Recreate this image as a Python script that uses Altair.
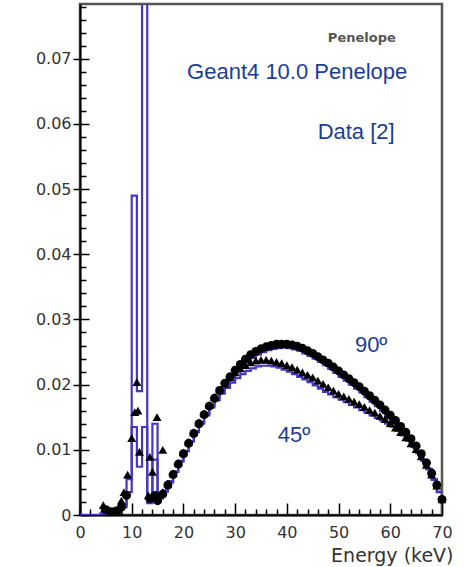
import altair as alt
import pandas as pd

# ---------------- data ----------------
X_MAX = 70
Y_MAX = 0.0784

bin_edges = list(range(0, 71))  # 1 keV bins, left edges 0..69 plus closing edge 70

hist_90 = [0, 0, 0, 0,
           0.0002, 0.0004, 0.0003, 0.0005, 0.0012, 0.0035,
           0.049, 0.019, 0.095, 0.003, 0.014, 0.0025,
           0.0036, 0.0050, 0.0066, 0.0082, 0.0098, 0.0113, 0.0128, 0.0142, 0.0155, 0.0168,
           0.0180, 0.0191, 0.0201, 0.0211, 0.0220, 0.0228, 0.0235, 0.0241, 0.0246, 0.0250,
           0.0253, 0.0255, 0.0256, 0.0257, 0.0256, 0.0254, 0.0252, 0.0248, 0.0244, 0.0240,
           0.0235, 0.0230, 0.0224, 0.0218, 0.0212, 0.0206, 0.0200, 0.0194, 0.0188, 0.0181,
           0.0174, 0.0167, 0.0160, 0.0152, 0.0144, 0.0136, 0.0127, 0.0118, 0.0108, 0.0097,
           0.0085, 0.0071, 0.0055, 0.0036]

hist_45 = [0, 0, 0, 0,
           0.0003, 0.0004, 0.0003, 0.0006, 0.0015, 0.0055,
           0.0135, 0.0074, 0.0135, 0.0018, 0.0085, 0.0028,
           0.0038, 0.0052, 0.0067, 0.0083, 0.0098, 0.0113, 0.0127, 0.0140, 0.0153, 0.0165,
           0.0176, 0.0186, 0.0195, 0.0203, 0.0210, 0.0216, 0.0221, 0.0225, 0.0228, 0.0229,
           0.0229, 0.0228, 0.0226, 0.0223, 0.0220, 0.0216, 0.0212, 0.0208, 0.0204, 0.0199,
           0.0194, 0.0189, 0.0185, 0.0181, 0.0177, 0.0173, 0.0169, 0.0165, 0.0161, 0.0157,
           0.0153, 0.0149, 0.0145, 0.0140, 0.0135, 0.0129, 0.0122, 0.0114, 0.0105, 0.0095,
           0.0083, 0.0070, 0.0054, 0.0035]

data_E = list(range(15, 71))
data_90 = [0.0022, 0.0032, 0.0046, 0.0062, 0.0078, 0.0094, 0.0110, 0.0125, 0.0140, 0.0154,
           0.0167, 0.0179, 0.0191, 0.0202, 0.0212, 0.0222, 0.0231, 0.0239, 0.0246, 0.0251,
           0.0255, 0.0258, 0.0260, 0.0262, 0.0262, 0.0262, 0.0261, 0.0259, 0.0256, 0.0252,
           0.0248, 0.0243, 0.0238, 0.0233, 0.0227, 0.0221, 0.0215, 0.0209, 0.0203, 0.0197,
           0.0190, 0.0183, 0.0176, 0.0169, 0.0161, 0.0153, 0.0145, 0.0136, 0.0127, 0.0117,
           0.0106, 0.0094, 0.0080, 0.0064, 0.0046, 0.0024]
data_45 = [0.0025, 0.0035, 0.0048, 0.0064, 0.0080, 0.0096, 0.0112, 0.0127, 0.0142, 0.0156,
           0.0169, 0.0181, 0.0192, 0.0202, 0.0211, 0.0219, 0.0225, 0.0230, 0.0234, 0.0237,
           0.0238, 0.0238, 0.0237, 0.0235, 0.0233, 0.0230, 0.0227, 0.0223, 0.0219, 0.0215,
           0.0211, 0.0206, 0.0201, 0.0196, 0.0191, 0.0186, 0.0182, 0.0178, 0.0174, 0.0170,
           0.0166, 0.0161, 0.0157, 0.0152, 0.0147, 0.0141, 0.0134, 0.0127, 0.0119, 0.0110,
           0.0101, 0.0090, 0.0077, 0.0062, 0.0045, 0.0024]

low_E_45 = [4.5, 5.5, 6.5, 7.5, 8.0, 8.5, 9.2, 10.0, 10.6, 11.0, 11.2, 11.5, 13.2, 13.5, 14.0, 14.9, 16.0]
low_45 = [0.0015, 0.0008, 0.0006, 0.0008, 0.0022, 0.0035, 0.0062, 0.0118, 0.0158, 0.0204,
          0.0160, 0.0097, 0.0030, 0.0089, 0.0066, 0.0150, 0.0100]
low_E_90 = [5, 6, 7, 8, 9, 13.5, 14.5]
low_90 = [0.0008, 0.0005, 0.0006, 0.0012, 0.0030, 0.0025, 0.0030]

x_major = [0, 10, 20, 30, 40, 50, 60, 70]
x_minor = [0, 2, 4, 6, 8, 12, 14, 16, 18, 22, 24, 26, 28, 32, 34, 36, 38, 42, 44, 46, 48,
           52, 54, 56, 58, 62, 64, 66, 68]
y_major = [0, 0.01, 0.02, 0.03, 0.04, 0.05, 0.06, 0.07]
y_minor = [0.002, 0.004, 0.006, 0.008, 0.012, 0.014, 0.016, 0.018, 0.022, 0.024, 0.026, 0.028,
           0.032, 0.034, 0.036, 0.038, 0.042, 0.044, 0.046, 0.048, 0.052, 0.054, 0.056, 0.058,
           0.062, 0.064, 0.066, 0.068, 0.072, 0.074, 0.076, 0.078]

labels_txt = ["Geant4 10.0 Penelope", "Data [2]", "90º", "45º"]
labels_E = [42.0, 53.4, 56.3, 41.4]
labels_v = [0.0679, 0.0587, 0.0261, 0.0123]
small_txt = ["Penelope"]
small_E = [54.5]
small_v = [0.0732]

# ---------------- frames ----------------
W, H = 362, 511
BLUE_HIST = "#4636c4"
TXT_BLUE = "#1b3d96"

hist_rows = []
for name, vals in (("90", hist_90), ("45", hist_45)):
    for e, v in zip(bin_edges, vals + [0]):
        hist_rows.append({"E": e, "v": v, "s": name})
hist_df = pd.DataFrame(hist_rows)

pts_90 = pd.DataFrame({"E": low_E_90 + data_E, "v": low_90 + data_90})
pts_45 = pd.DataFrame({"E": low_E_45 + data_E, "v": low_45 + data_45})

xscale = alt.Scale(domain=[0, X_MAX], nice=False, zero=False)
yscale = alt.Scale(domain=[0, Y_MAX], nice=False, zero=False)

# main axes: labels, domain lines, outward major ticks on y
x_axis = alt.Axis(orient="bottom", values=x_major, ticks=False, grid=False,
                  title="Energy (keV)", titleAlign="right",
                  titleX=373, titleY=46, titleBaseline="alphabetic")
y_axis = alt.Axis(orient="left", values=y_major, ticks=True, tickSize=7, grid=False,
                  labelExpr="datum.value == 0 ? '0' : format(datum.value, '.2f')",
                  title=None)


# tick-only axes pulled inside the plot with a negative offset -> inward ticks
def tick_axis(orient, vals, size):
    return alt.Axis(orient=orient, values=vals, labels=False, domain=False, grid=False,
                    ticks=True, tickSize=size, tickColor="black", tickWidth=1.5,
                    offset=alt.ExprRef(str(-size)), title=None)


hist = alt.Chart(hist_df).mark_line(interpolate="step-after", clip=True, strokeWidth=2.2,
                                    color=BLUE_HIST).encode(
    x=alt.X("E:Q", scale=xscale, axis=x_axis),
    y=alt.Y("v:Q", scale=yscale, axis=y_axis),
    detail="s:N",
)

p90 = alt.Chart(pts_90).mark_point(shape="circle", filled=True, color="black", size=80,
                                   opacity=1).encode(
    x=alt.X("E:Q", scale=xscale, axis=tick_axis("bottom", x_major, 12)),
    y=alt.Y("v:Q", scale=yscale, axis=tick_axis("left", y_major, 9)))
p45 = alt.Chart(pts_45).mark_point(shape="triangle-up", filled=True, color="black", size=80,
                                   opacity=1).encode(
    x=alt.X("E:Q", scale=xscale, axis=tick_axis("bottom", x_minor, 6)),
    y=alt.Y("v:Q", scale=yscale, axis=tick_axis("left", y_minor, 6)))

texts = alt.Chart(pd.DataFrame({"E": labels_E, "v": labels_v, "lab": labels_txt})).mark_text(
    font="Liberation Sans", fontSize=22, color=TXT_BLUE, baseline="middle", align="center").encode(
    x=alt.X("E:Q", scale=xscale, axis=None), y=alt.Y("v:Q", scale=yscale, axis=None),
    text="lab:N")
small = alt.Chart(pd.DataFrame({"E": small_E, "v": small_v, "lab": small_txt})).mark_text(
    font="DejaVu Sans", fontSize=13, fontWeight="bold", color="#555",
    baseline="middle", align="center").encode(
    x=alt.X("E:Q", scale=xscale, axis=None), y=alt.Y("v:Q", scale=yscale, axis=None),
    text="lab:N")

chart = alt.layer(hist, p90, p45, texts, small).resolve_axis(
    x="independent", y="independent"
).properties(
    width=W, height=H,
    autosize=alt.AutoSizeParams(type="none"),
    padding={"left": 80, "top": 4, "right": 24, "bottom": 52},
).configure(background="white").configure_view(
    stroke="#555", strokeWidth=2.5
).configure_axis(
    domainColor="black", domainWidth=2, tickColor="black", tickWidth=1.5,
    labelFont="DejaVu Sans", labelFontSize=16, labelColor="#333", labelFlush=False,
    titleFont="DejaVu Sans", titleFontSize=19, titleFontWeight="normal", titleColor="#333",
).configure_axisX(labelPadding=9).configure_axisY(labelPadding=2)

chart.save("out.html", embed_options={"renderer": "svg", "actions": False})
